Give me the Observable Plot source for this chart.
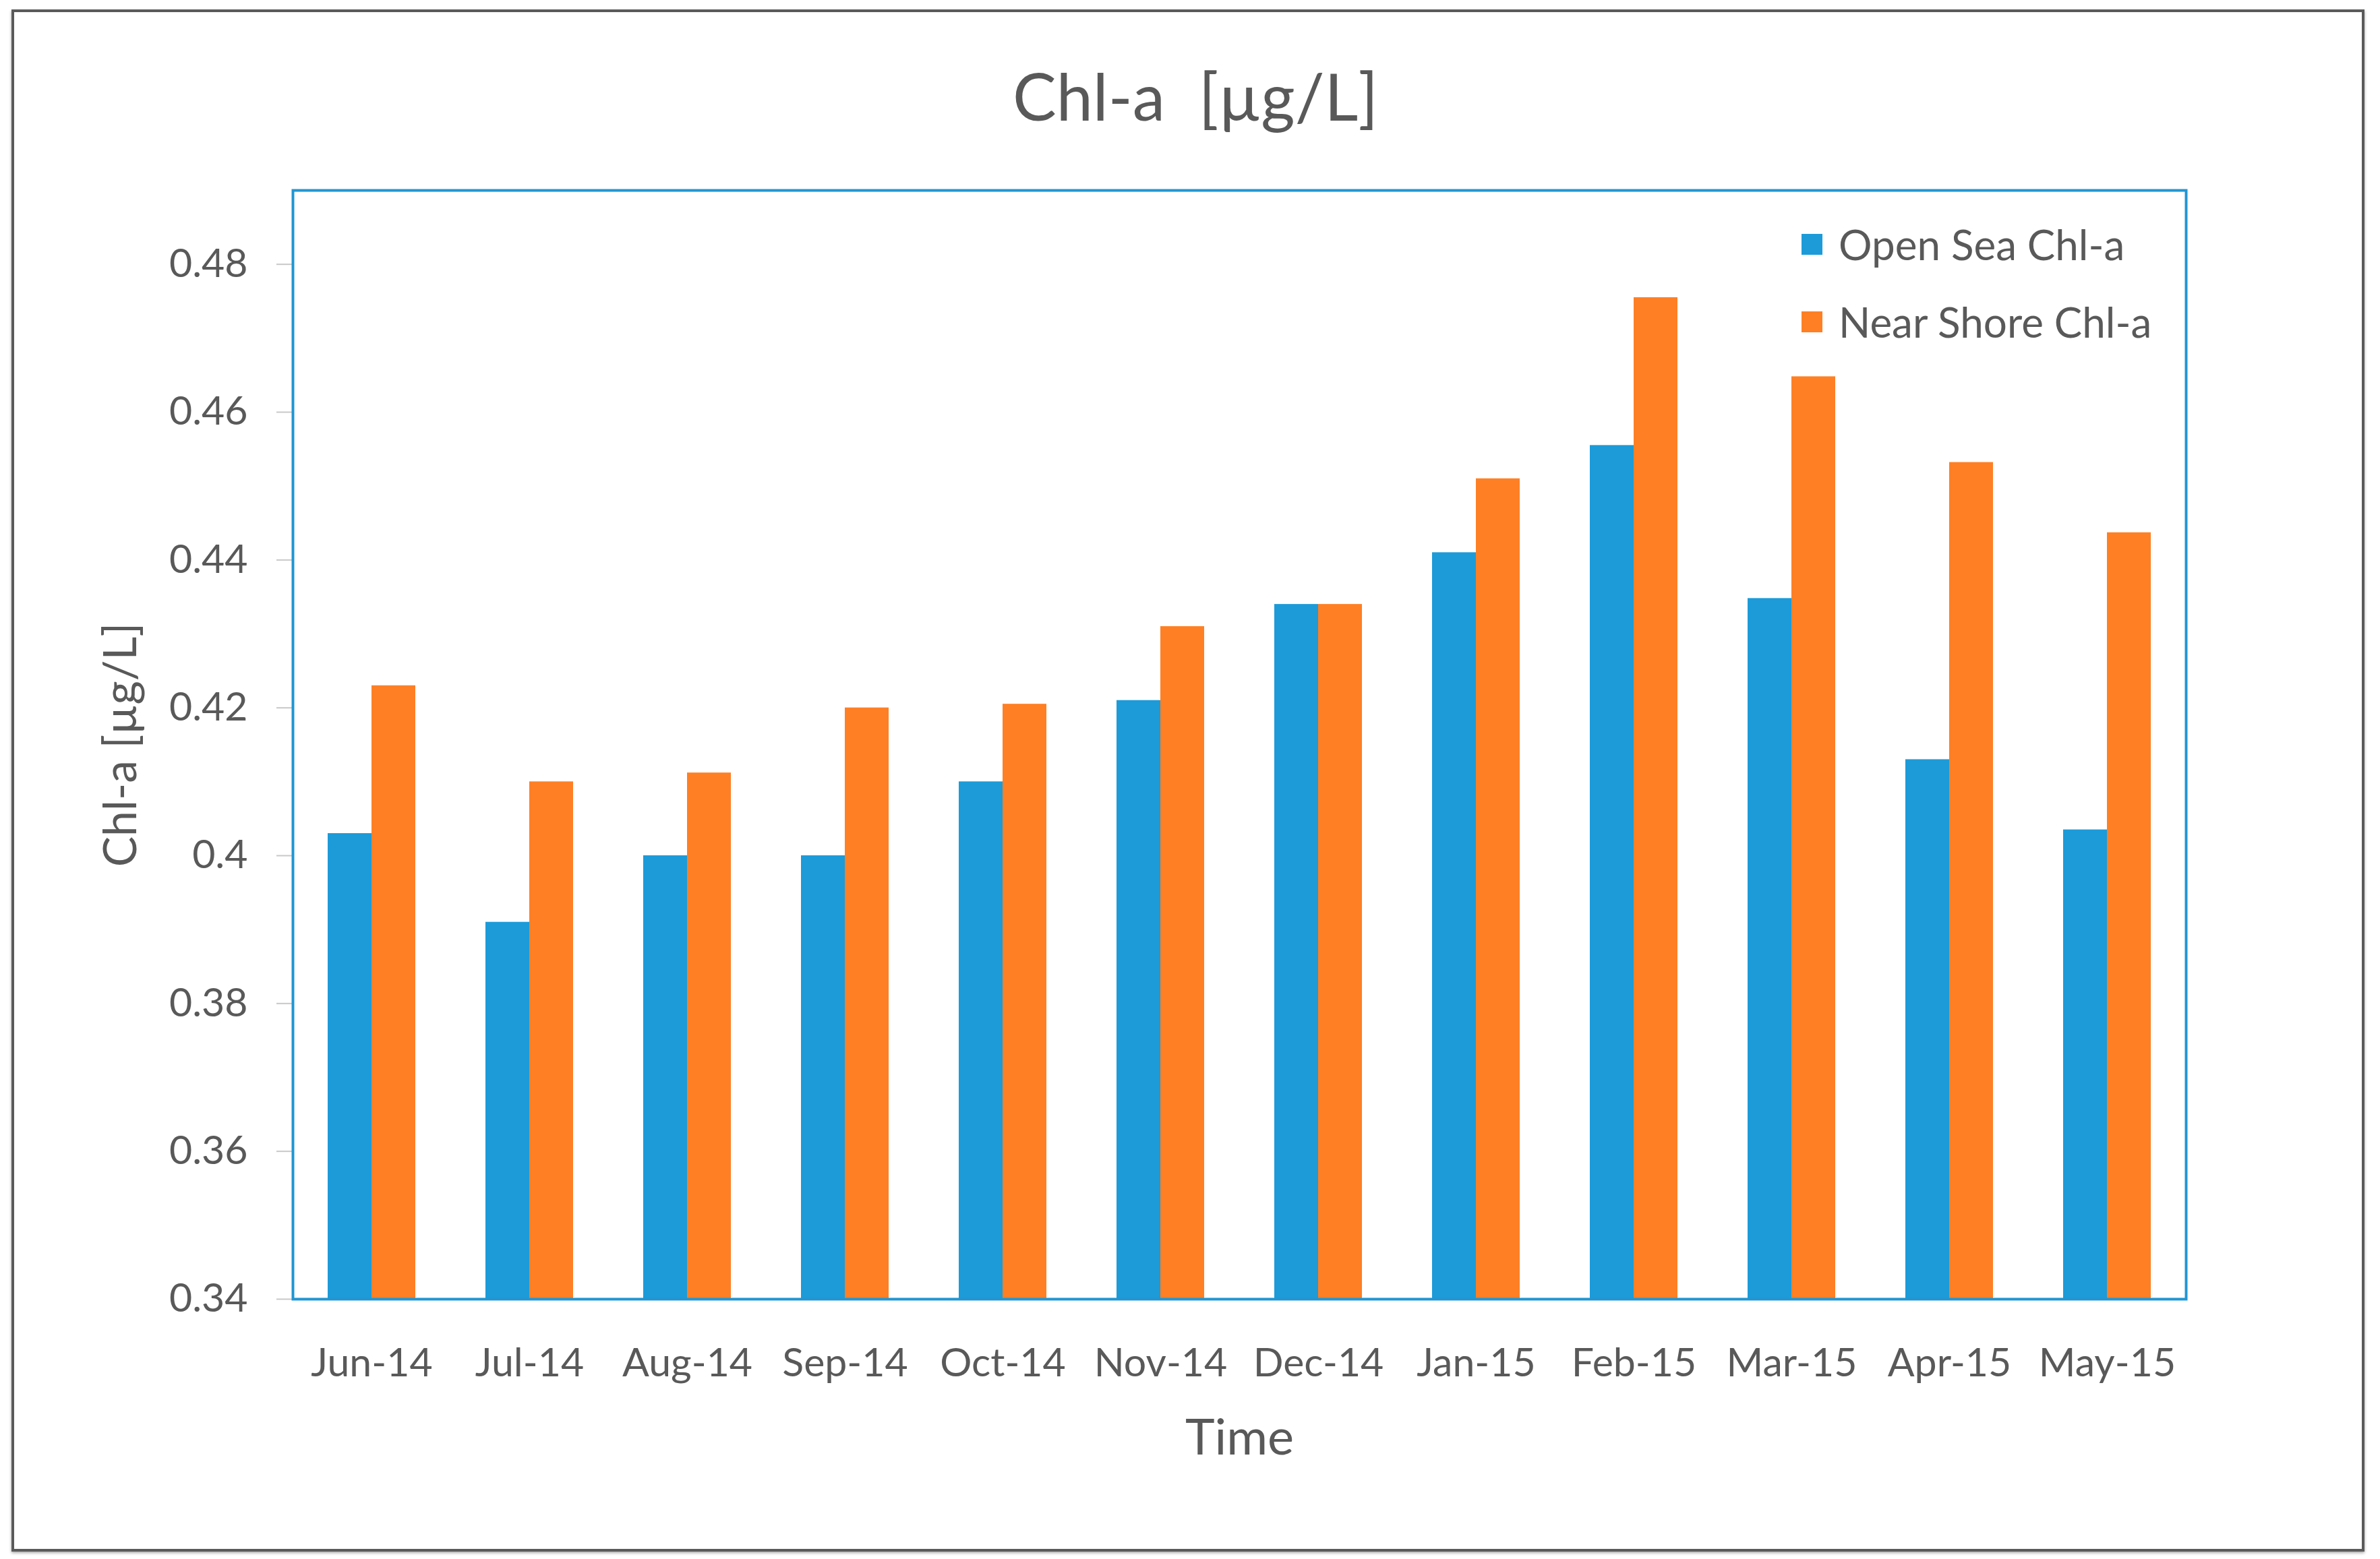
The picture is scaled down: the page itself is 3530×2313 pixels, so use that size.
<!DOCTYPE html>
<html>
<head>
<meta charset="utf-8">
<script src="https://cdn.jsdelivr.net/npm/d3@7"></script>
<script src="https://cdn.jsdelivr.net/npm/@observablehq/plot@0.6"></script>
<style>
  html, body { margin: 0; padding: 0; background: #ffffff; }
  body { width: 3530px; height: 2313px; position: relative; overflow: hidden; font-family: Lato, "Open Sans", sans-serif; }
  #border { position: absolute; left: 17px; top: 14px; width: 3482px; height: 2280px; border: 4px solid #5a5a5a; box-shadow: 0 2px 4px rgba(0,0,0,0.35); }
  #title { position: absolute; left: 8px; top: 82px; width: 3530px; text-align: center; font-size: 97px; line-height: 120px; color: #595959; white-space: pre; }
  #chart { position: absolute; left: 0; top: 240px; }
  #legend { position: absolute; left: 2672px; top: 318px; color: #595959; font-size: 62px; }
  .item { display: flex; align-items: center; height: 88px; margin-bottom: 27px; }
  .sw { width: 31px; height: 31px; margin-right: 24px; }
</style>
</head>
<body>
<div id="border"></div>
<div id="title">Chl-a  [µg/L]</div>
<div id="chart"></div>
<div id="legend"></div>
<script>
// ---- data ----
const months = ["Jun-14","Jul-14","Aug-14","Sep-14","Oct-14","Nov-14","Dec-14","Jan-15","Feb-15","Mar-15","Apr-15","May-15"];
const openSea = [0.403, 0.391, 0.400, 0.400, 0.410, 0.421, 0.434, 0.441, 0.4555, 0.4348, 0.413, 0.4035];
const nearShore = [0.423, 0.410, 0.4112, 0.420, 0.4205, 0.431, 0.434, 0.451, 0.4755, 0.4648, 0.4532, 0.4437];
const seriesNames = ["Open Sea Chl-a", "Near Shore Chl-a"];
const seriesColors = ["#1C9BD8", "#FF7F24"];
const yTicks = [0.34, 0.36, 0.38, 0.40, 0.42, 0.44, 0.46, 0.48];
const yDomain = [0.34, 0.49];
const xTitle = "Time";
const yTitle = "Chl-a [µg/L]";

const rowsOpen = months.map((m, i) => ({month: m, value: openSea[i]}));
const rowsNear = months.map((m, i) => ({month: m, value: nearShore[i]}));

const textColor = "#595959";
const font = "Lato, 'Open Sans', sans-serif";

const plot = Plot.plot({
  width: 3530,
  height: 2020,
  marginLeft: 434,
  marginRight: 288,
  marginTop: 42,
  marginBottom: 333,
  style: {fontFamily: font, background: "transparent", overflow: "visible"},
  x: {type: "band", domain: months, padding: 0},
  y: {domain: yDomain},
  marks: [
    Plot.barY(rowsOpen, {x: "month", y1: () => yDomain[0], y2: "value", fill: seriesColors[0], insetLeft: 52, insetRight: 117}),
    Plot.barY(rowsNear, {x: "month", y1: () => yDomain[0], y2: "value", fill: seriesColors[1], insetLeft: 117, insetRight: 52}),
    Plot.axisY(yTicks, {tickSize: 24, tickPadding: 43, stroke: "#c8c8c8", strokeWidth: 2, fill: textColor, fontSize: 59, tickFormat: d => String(+d.toFixed(2)), label: null}),
    Plot.axisX({tickSize: 0, tickPadding: 73, fill: textColor, fontSize: 59, label: null}),
    Plot.frame({stroke: "#2196D3", strokeWidth: 4}),
    Plot.text([xTitle], {frameAnchor: "bottom", dy: 207, lineAnchor: "middle", fontSize: 74, fill: textColor}),
    Plot.text([yTitle], {frameAnchor: "left", dx: -254, rotate: -90, textAnchor: "middle", lineAnchor: "middle", fontSize: 68, fill: textColor})
  ]
});
document.getElementById("chart").appendChild(plot);

const legend = document.getElementById("legend");
seriesNames.forEach((name, i) => {
  const item = document.createElement("div");
  item.className = "item";
  const sw = document.createElement("div");
  sw.className = "sw";
  sw.style.background = seriesColors[i];
  const label = document.createElement("span");
  label.textContent = name;
  item.appendChild(sw);
  item.appendChild(label);
  legend.appendChild(item);
});
</script>
</body>
</html>
